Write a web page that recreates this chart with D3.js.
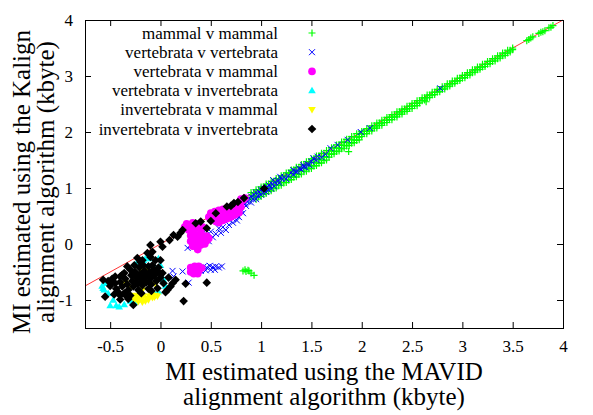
<!DOCTYPE html>
<html>
<head>
<meta charset="utf-8">
<script src="https://cdn.jsdelivr.net/npm/d3@7"></script>
<style>
body { margin: 0; background: #fff; }
text { font-family: "Liberation Serif", "Times New Roman", serif; fill: #000; }
</style>
</head>
<body>
<svg></svg>
<script>
var width = 593;
var height = 415;

// tick values
var xTicks = [-0.5, 0, 0.5, 1, 1.5, 2, 2.5, 3, 3.5, 4];
var yTicks = [-1, 0, 1, 2, 3, 4];

var seriesNames = [
    'mammal v mammal',
    'vertebrata v vertebrata',
    'vertebrata v mammal',
    'vertebrata v invertebrata',
    'invertebrata v mammal',
    'invertebrata v invertebrata'
];

// mammal v mammal, one row per MAVID value: [MAVID, Kalign, Kalign, ...]
var mammalMammalRows = [
    [0.90,0.92,0.86,0.80],[0.925,0.92,0.86],[0.95,0.97,0.91,0.85,0.80],[0.975,0.97,0.91,0.84],
    [1.00,1.02,0.96,0.90,0.85],[1.025,1.02,0.96,0.89],[1.05,1.07,1.01,0.95,0.90],[1.075,1.07,1.01,0.94],
    [1.10,1.12,1.06,1.00,0.95],[1.125,1.12,1.06,0.99],[1.15,1.17,1.11,1.05,1.00],[1.175,1.17,1.11,1.04],
    [1.20,1.22,1.16,1.10,1.05],[1.225,1.22,1.16,1.09],[1.25,1.27,1.21,1.15,1.10],[1.275,1.27,1.21,1.14],
    [1.30,1.32,1.26,1.20,1.15],[1.325,1.32,1.26,1.19],[1.35,1.37,1.31,1.25,1.20],[1.375,1.37,1.31,1.24],
    [1.40,1.42,1.36,1.30,1.25],[1.425,1.42,1.36,1.29],[1.45,1.47,1.41,1.35,1.30],[1.475,1.47,1.41,1.34],
    [1.50,1.52,1.46,1.40,1.35],[1.525,1.52,1.46,1.39],[1.55,1.57,1.51,1.45,1.40],[1.575,1.57,1.51,1.44],
    [1.60,1.62,1.56,1.50,1.45],[1.625,1.62,1.56,1.49],[1.65,1.67,1.61,1.55,1.50],[1.675,1.67,1.61,1.55],
    [1.70,1.72,1.66,1.60],[1.725,1.72,1.66,1.61],[1.75,1.77,1.71,1.65],[1.775,1.77,1.71,1.66],
    [1.80,1.82,1.76,1.70],[1.825,1.82,1.76,1.71],[1.85,1.87,1.81,1.75],[1.875,1.87,1.81,1.76],
    [1.90,1.92,1.86,1.80],[1.925,1.92,1.86,1.81],[1.95,1.97,1.91,1.85],[1.975,1.97,1.91,1.86],
    [2.00,2.01,1.96,1.92],[2.025,2.01,1.97],[2.05,2.06,2.01,1.97],[2.075,2.06,2.02],
    [2.10,2.11,2.06,2.02],[2.125,2.11,2.07],[2.15,2.16,2.11,2.07],[2.175,2.16,2.12],
    [2.20,2.21,2.16,2.12],[2.225,2.21,2.17],[2.25,2.26,2.21,2.17],[2.275,2.26,2.22],
    [2.30,2.31,2.26,2.22],[2.325,2.31,2.27],[2.35,2.36,2.31,2.27],[2.375,2.36,2.32],
    [2.40,2.41,2.36,2.32],[2.425,2.41,2.37],[2.45,2.46,2.41,2.37],[2.475,2.46,2.42],
    [2.50,2.51,2.46,2.42],[2.525,2.51,2.47],[2.55,2.56,2.51,2.47],[2.575,2.56,2.52],
    [2.60,2.61,2.56],[2.625,2.61,2.57],[2.65,2.66,2.61],[2.675,2.66,2.62],
    [2.70,2.71,2.66],[2.725,2.71,2.67],[2.75,2.76,2.71],[2.775,2.76,2.72],
    [2.80,2.81,2.76],[2.825,2.81,2.77],[2.85,2.86,2.81],[2.875,2.86,2.82],
    [2.90,2.91,2.86],[2.925,2.91,2.87],[2.95,2.96,2.91],[2.975,2.96,2.92],
    [3.00,3.01,2.96],[3.025,3.01,2.97],[3.05,3.06,3.01],[3.075,3.06,3.02],
    [3.10,3.11,3.06],[3.125,3.11,3.07],[3.15,3.16,3.11],[3.175,3.16,3.12],
    [3.20,3.21,3.16],[3.225,3.21,3.17],[3.25,3.26,3.21],[3.275,3.26,3.22],
    [3.30,3.31,3.26],[3.325,3.31,3.27],[3.35,3.36,3.31],[3.375,3.36,3.32],
    [3.40,3.41,3.36],[3.425,3.41,3.37],[3.45,3.46,3.41],[3.475,3.46,3.43],
    [3.50,3.50,3.47],[3.64,3.63],[3.66,3.65],[3.68,3.68],[3.70,3.70],[3.76,3.76],[3.78,3.78],
    [3.80,3.79],[3.82,3.81],[3.86,3.86],[3.88,3.87],[3.90,3.90],
    [1.87,1.65],[2.64,2.54],
    [0.82,-0.48],[0.84,-0.46],[0.85,-0.49],[0.87,-0.47],[0.88,-0.48],[0.90,-0.52],[0.93,-0.56]
];

// [MAVID, Kalign] pairs
var vertVert = [
    [0.62,0.55],[0.66,0.58],[0.70,0.62],[0.74,0.66],[0.77,0.70],[0.80,0.72],[0.82,0.76],[0.85,0.78],
    [0.88,0.82],[0.90,0.85],[0.93,0.88],[0.95,0.92],[0.98,0.93],[1.00,0.97],[1.03,0.99],[1.06,1.02],
    [1.08,1.05],[1.11,1.07],[1.14,1.10],[1.17,1.13],[1.20,1.17],[1.23,1.19],[1.27,1.22],[1.30,1.27],
    [1.34,1.30],[1.38,1.35],[1.42,1.38],[1.46,1.43],[1.50,1.47],
    [0.64,0.52],[0.68,0.55],[0.72,0.60],[0.76,0.64],[0.79,0.66],[0.84,0.72],[0.87,0.76],[0.92,0.80],
    [0.97,0.86],[1.02,0.92],[1.07,0.97],[1.13,1.03],[1.18,1.09],[1.25,1.16],[1.32,1.24],[1.36,1.29],
    [1.40,1.33],[1.44,1.37],[1.48,1.41],[1.55,1.50],[1.60,1.55],[1.64,1.60],
    [0.75,0.55],[0.80,0.62],[0.85,0.68],[0.90,0.74],[0.95,0.80],[1.00,0.88],[1.05,0.93],[1.10,0.99],
    [0.70,0.50],[0.72,0.45],
    [1.12,1.14],[1.19,1.20],[1.32,1.32],[1.42,1.41],[1.52,1.53],[1.56,1.56],[1.69,1.71],[1.76,1.77],
    [1.86,1.86],[1.99,2.00],[2.08,2.07],[2.78,2.78],
    [0.45,0.25],[0.50,0.22],[0.55,0.18],[0.58,0.28],[0.62,0.30],[0.65,0.25],[0.68,0.34],[0.72,0.38],
    [0.76,0.42],[0.78,0.48],[0.82,0.55],[0.60,0.20],[0.52,0.12],[0.48,0.05],[0.40,0.02],[0.35,0.05],
    [0.30,-0.02],[0.27,-0.07],[0.33,0.10],[0.42,0.15],
    [0.43,-0.40],[0.46,-0.42],[0.49,-0.39],[0.52,-0.41],[0.55,-0.40],[0.58,-0.42],[0.61,-0.40],
    [0.45,-0.47],[0.50,-0.46],[0.54,-0.46],[0.40,-0.48],
    [0.12,-0.48],[0.22,-0.49],[0.13,-0.58],[0.28,-0.69]
];

var vertMammal = [
    [0.48,0.48],[0.50,0.55],[0.52,0.45],[0.54,0.58],[0.55,0.40],[0.56,0.50],[0.58,0.60],[0.58,0.38],
    [0.60,0.48],[0.62,0.62],[0.62,0.42],[0.64,0.54],[0.66,0.64],[0.66,0.45],[0.68,0.56],[0.70,0.66],
    [0.70,0.48],[0.72,0.58],[0.74,0.70],[0.74,0.52],[0.76,0.62],[0.78,0.74],[0.78,0.56],[0.80,0.66],
    [0.82,0.78],[0.84,0.82],[0.80,0.80],
    [0.24,0.30],[0.26,0.36],[0.28,0.25],[0.30,0.33],[0.32,0.38],[0.33,0.22],[0.36,0.30],[0.38,0.36],
    [0.40,0.24],[0.42,0.30],[0.30,0.15],[0.34,0.12],[0.38,0.16],[0.42,0.15],[0.46,0.14],[0.30,0.05],
    [0.34,0.04],[0.38,0.06],[0.42,0.06],[0.46,0.06],[0.48,0.10],[0.32,-0.04],[0.36,-0.06],[0.40,-0.02],
    [0.44,0.00],[0.37,-0.10],
    [0.30,-0.42],[0.30,-0.50],[0.34,-0.40],[0.34,-0.48],[0.38,-0.40],[0.38,-0.48],[0.41,-0.43],
    [0.33,-0.53],[0.37,-0.53]
];

var vertInvert = [
    [-0.58,-0.75],[-0.56,-0.82],[-0.52,-0.88],[-0.54,-0.70],[-0.57,-0.79],
    [-0.50,-1.10],[-0.44,-1.10],[-0.41,-1.12],[-0.36,-1.08],[-0.47,-1.00],[-0.30,-1.02],[-0.26,-1.04],
    [-0.15,-0.26],[-0.12,-0.26],[-0.02,-0.26],[-0.05,-0.43],[0.00,-0.38],[-0.17,-0.29],[-0.24,-0.35],
    [0.02,-0.60],[0.03,-0.64],[-0.02,-0.85],[0.05,-0.75],[-0.06,-0.88],[-0.25,-0.97],[-0.42,-0.85]
];

var invertMammal = [
    [-0.28,-0.95],[-0.25,-0.92],[-0.24,-0.99],[-0.21,-0.94],[-0.19,-1.00],[-0.17,-0.93],[-0.14,-0.97],
    [-0.11,-0.93],[-0.08,-0.96],[-0.05,-0.92],[-0.22,-1.03],[-0.15,-1.02],
    [-0.26,-0.98],[-0.20,-0.97],[-0.12,-1.00],[-0.09,-0.91],[-0.06,-0.95],[-0.03,-0.93],[-0.18,-1.04],
    [-0.20,-0.45],[-0.15,-0.55],[-0.25,-0.65],[-0.10,-0.60],[-0.35,-0.70],[-0.30,-0.78],[-0.05,-0.72],
    [-0.18,-0.82],[-0.13,-0.44],[-0.22,-0.58],[-0.08,-0.52]
];

var invertInvert = [
    [-0.52,-0.66],[-0.48,-0.62],[-0.45,-0.70],[-0.50,-0.75],[-0.44,-0.80],[-0.40,-0.58],[-0.40,-0.68],
    [-0.38,-0.76],[-0.36,-0.52],[-0.35,-0.62],[-0.33,-0.72],[-0.32,-0.82],[-0.30,-0.46],[-0.29,-0.56],
    [-0.28,-0.66],[-0.27,-0.76],[-0.25,-0.50],[-0.24,-0.60],[-0.23,-0.70],[-0.21,-0.42],[-0.20,-0.54],
    [-0.19,-0.64],[-0.18,-0.74],[-0.16,-0.48],[-0.15,-0.58],[-0.14,-0.68],[-0.12,-0.40],[-0.11,-0.52],
    [-0.10,-0.62],[-0.09,-0.72],[-0.07,-0.46],[-0.06,-0.56],[-0.04,-0.66],[-0.02,-0.50],[0.00,-0.60],
    [-0.36,-0.88],[-0.30,-0.92],[-0.40,-0.92],[-0.22,-0.82],[-0.12,-0.80],
    [-0.45,-0.58],[-0.42,-0.86],[-0.33,-0.40],[-0.26,-0.38],[-0.17,-0.38],[-0.08,-0.38],[-0.02,-0.42],
    [0.02,-0.52],[-0.46,-0.90],[-0.32,-0.98],[-0.19,-0.88],[-0.09,-0.84],[0.08,-0.60],[0.10,-0.76],
    [-0.55,-0.94],[-0.57,-0.64],[-0.40,-0.99],[-0.27,-1.09],[-0.35,-0.91],[-0.48,-0.67],[-0.38,-0.55],
    [0.03,-0.70],[0.12,-0.70],[0.15,-0.64],[0.07,-0.82],[-0.03,-0.79],[0.05,-0.86],
    [0.23,-1.02],[0.46,-0.69],[0.25,-0.71],
    [-0.23,-0.25],[-0.20,-0.32],[-0.13,-0.16],[-0.10,-0.23],[-0.08,-0.14],[-0.05,-0.29],[0.00,-0.29],
    [-0.18,-0.29],[-0.10,-0.02],[0.00,0.04],[0.02,-0.05],[0.09,0.07],[0.17,0.13],[0.13,0.16],
    [0.22,0.25],[0.20,0.20],[0.35,0.37],[0.40,0.40],[0.46,0.28],[0.50,0.41],[0.55,0.55],[0.66,0.67],
    [0.70,0.68],[0.73,0.73],[0.77,0.75],[0.83,0.82],[1.03,0.99]
];

var mammalMammal = mammalMammalRows.flatMap(r => r.slice(1).map(y => [r[0], y]));

var seriesData = [mammalMammal, vertVert, vertMammal, vertInvert, invertMammal, invertInvert];
var seriesColors = ['#00ff00', '#0000ff', '#ff00ff', '#00ffff', '#ffff00', '#000000'];
var seriesShapes = ['plus', 'cross', 'circle', 'triangle', 'invtriangle', 'diamond'];

var plotLeft = 85, plotRight = 563, plotTop = 20, plotBottom = 328;

var xScale = d3.scaleLinear()
                .domain([-0.75, 4])
                .range([plotLeft, plotRight]);

var yScale = d3.scaleLinear()
                .domain([-1.5, 4])
                .range([plotBottom, plotTop]);

var svg = d3.select('svg')
    .attr('width', width)
    .attr('height', height);

function shapePath(shape){
    if(shape === 'plus') return 'M-3.5,0H3.5M0,-3.5V3.5';
    if(shape === 'cross') return 'M-3,-3L3,3M-3,3L3,-3';
    if(shape === 'circle') return d3.symbol(d3.symbolCircle, 46)();
    if(shape === 'triangle') return 'M0,-3.8L3.8,2.7L-3.8,2.7Z';
    if(shape === 'invtriangle') return 'M0,3.8L3.8,-2.7L-3.8,-2.7Z';
    return 'M0,-4.3L4.3,0L0,4.3L-4.3,0Z';
}

function styleMark(sel, i){
    var shape = seriesShapes[i];
    if(shape === 'plus' || shape === 'cross'){
        sel.attr('fill', 'none')
           .attr('stroke', seriesColors[i])
           .attr('stroke-width', shape === 'plus' ? 1.2 : 1);
    } else {
        sel.attr('fill', seriesColors[i]).attr('stroke', 'none');
    }
}

// y = x reference line
svg.append('line')
    .attr('x1', xScale(-0.75))
    .attr('y1', yScale(-0.75))
    .attr('x2', xScale(4))
    .attr('y2', yScale(4))
    .attr('stroke', '#ff0000')
    .attr('stroke-width', 0.8);

// points
seriesData.forEach(function(data, i){
    svg.append('g')
        .selectAll('path')
        .data(data)
        .enter()
        .append('path')
            .attr('d', shapePath(seriesShapes[i]))
            .attr('transform', d => 'translate(' + xScale(d[0]) + ',' + yScale(d[1]) + ')')
            .call(styleMark, i);
});

// axes, gnuplot style: inward ticks mirrored on all sides
var fmt = d => String(d);

svg.append('g')
    .attr('transform', 'translate(0,' + plotBottom + ')')
    .call(d3.axisBottom(xScale).tickValues(xTicks).tickFormat(fmt).tickSizeInner(-6).tickSizeOuter(0).tickPadding(12));

svg.append('g')
    .attr('transform', 'translate(0,' + plotTop + ')')
    .call(d3.axisTop(xScale).tickValues(xTicks).tickFormat('').tickSizeInner(-6).tickSizeOuter(0));

svg.append('g')
    .attr('transform', 'translate(' + plotLeft + ',0)')
    .call(d3.axisLeft(yScale).tickValues(yTicks).tickFormat(fmt).tickSizeInner(-6).tickSizeOuter(0).tickPadding(12));

svg.append('g')
    .attr('transform', 'translate(' + plotRight + ',0)')
    .call(d3.axisRight(yScale).tickValues(yTicks).tickFormat('').tickSizeInner(-6).tickSizeOuter(0));

svg.selectAll('.domain').remove();
svg.selectAll('.tick line').attr('stroke', '#000');
svg.selectAll('.tick text')
    .style('font-family', '"Liberation Serif", serif')
    .style('font-size', '17px')
    .attr('fill', '#000');

svg.append('rect')
    .attr('x', plotLeft + 0.5)
    .attr('y', plotTop + 0.5)
    .attr('width', plotRight - plotLeft)
    .attr('height', plotBottom - plotTop)
    .attr('fill', 'none')
    .attr('stroke', '#000');

// legend
var legend = svg.append('g');
seriesNames.forEach(function(name, i){
    var cy = 33 + i * 19.2;
    legend.append('text')
        .attr('x', 278)
        .attr('y', cy + 5.5)
        .style('font-size', '17px')
        .style('text-anchor', 'end')
        .text(name);
    legend.append('path')
        .attr('d', shapePath(seriesShapes[i]))
        .attr('transform', 'translate(312,' + cy + ')')
        .call(styleMark, i);
});

// axis titles
svg.append('text')
    .attr('x', 324)
    .attr('y', 380)
    .style('font-size', '25px')
    .style('text-anchor', 'middle')
    .text('MI estimated using the MAVID');

svg.append('text')
    .attr('x', 324)
    .attr('y', 405)
    .style('font-size', '25px')
    .style('text-anchor', 'middle')
    .text('alignment algorithm (kbyte)');

svg.append('text')
    .attr('transform', 'translate(30,182) rotate(-90)')
    .style('font-size', '25px')
    .style('text-anchor', 'middle')
    .text('MI estimated using the Kalign');

svg.append('text')
    .attr('transform', 'translate(54,182) rotate(-90)')
    .style('font-size', '25px')
    .style('text-anchor', 'middle')
    .text('alignment algorithm (kbyte)');
</script>
</body>
</html>
